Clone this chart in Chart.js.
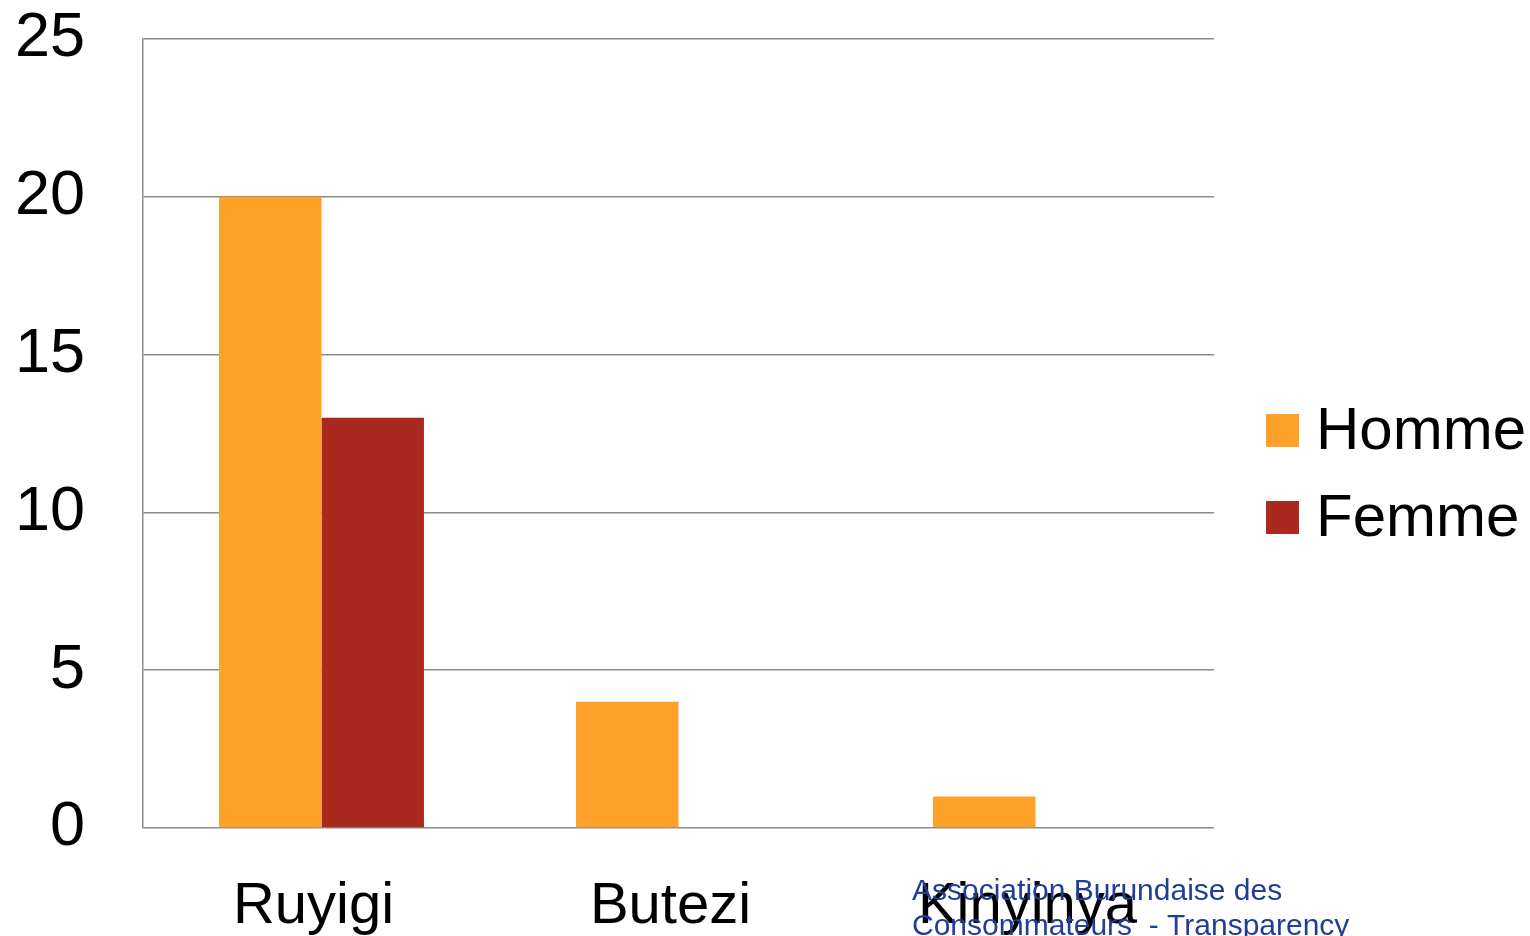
<!DOCTYPE html>
<html>
<head>
<meta charset="utf-8">
<script src="https://cdn.jsdelivr.net/npm/chart.js@4"></script>
<style>
  html, body { margin: 0; padding: 0; background: #fff; }
  #wrap { width: 1530px; height: 936px; }
</style>
</head>
<body>
<div id="wrap"><canvas id="chart" width="1530" height="936"></canvas></div>
<script>
// Données
const categories = ['Ruyigi', 'Butezi', 'Kinyinya'];
const homme = [20, 4, 1];
const femme = [13, 0, 0];
const yTicks = [0, 5, 10, 15, 20, 25];
const noteLines = ['Association Burundaise des', 'Consommateurs  - Transparency'];

const FONT = '"Liberation Sans", Arial, sans-serif';

// Légende à droite
const legendPlugin = {
    id: 'customLegend',
    afterDraw(chart) {
        const ctx = chart.ctx;
        const rows = [430, 517];
        ctx.save();
        chart.data.datasets.forEach((ds, i) => {
            ctx.fillStyle = ds.backgroundColor;
            ctx.fillRect(1266, rows[i] - 16, 33, 33);
            ctx.fillStyle = '#000';
            ctx.font = '60px ' + FONT;
            ctx.textBaseline = 'middle';
            ctx.textAlign = 'left';
            ctx.fillText(ds.label, 1316, rows[i] + 2);
        });
        ctx.restore();
    }
};

// Texte bleu en bas
const notePlugin = {
    id: 'note',
    afterDraw(chart) {
        const ctx = chart.ctx;
        ctx.save();
        ctx.fillStyle = '#1f3d99';
        ctx.font = '30px ' + FONT;
        ctx.textBaseline = 'alphabetic';
        ctx.textAlign = 'left';
        noteLines.forEach((t, i) => ctx.fillText(t, 912, 900 + i * 35));
        ctx.restore();
    }
};

new Chart(document.getElementById('chart'), {
    type: 'bar',
    data: {
        labels: categories,
        datasets: [
            { label: 'Homme', data: homme, backgroundColor: '#fda128' },
            { label: 'Femme', data: femme, backgroundColor: '#a9291f' }
        ]
    },
    options: {
        responsive: false,
        animation: false,
        layout: { padding: { top: 39, right: 316, bottom: 0, left: 0 } },
        plugins: {
            legend: { display: false },
            tooltip: { enabled: false }
        },
        datasets: {
            bar: { categoryPercentage: 0.574, barPercentage: 1 }
        },
        scales: {
            x: {
                grid: { display: false, drawTicks: false },
                border: { display: false },
                ticks: { color: '#000', font: { family: FONT, size: 58 }, padding: 44, labelOffset: -8 },
                afterFit(scale) { scale.height = 108; scale.paddingLeft = 0; scale.paddingRight = 0; }
            },
            y: {
                min: 0,
                max: 25,
                afterBuildTicks(scale) { scale.ticks = yTicks.map(v => ({ value: v })); },
                grid: { color: '#8c8c8c', lineWidth: 1.5, drawTicks: false },
                border: { display: true, color: '#8c8c8c', width: 1.5 },
                ticks: { color: '#000', font: { family: FONT, size: 63 }, padding: 58 },
                afterFit(scale) { scale.width = 143; scale.paddingTop = 0; scale.paddingBottom = 0; }
            }
        }
    },
    plugins: [legendPlugin, notePlugin]
});
</script>
</body>
</html>
